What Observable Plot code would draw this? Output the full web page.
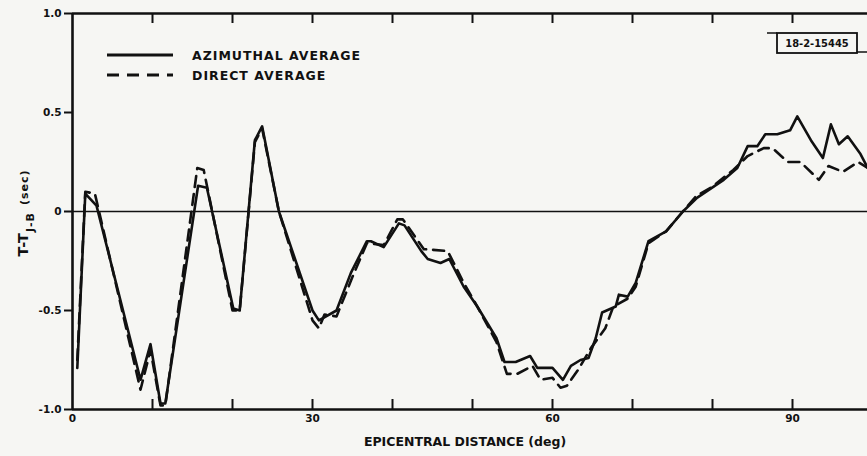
<!DOCTYPE html>
<html>
<head>
<meta charset="utf-8">
<script src="https://cdn.jsdelivr.net/npm/d3@7"></script>
<script src="https://cdn.jsdelivr.net/npm/@observablehq/plot@0.6"></script>
<style>
  html, body { margin: 0; padding: 0; background: #f6f6f3; }
  #chart { width: 867px; height: 456px; }
</style>
</head>
<body>
<div id="chart"></div>
<script>
// ---- data ----
const azDist  = [0.6, 1.6, 3.0, 8.5, 9.75, 11.0, 11.6, 15.7, 16.8, 20.1, 20.9, 22.8, 23.7, 25.8, 30.0, 30.8, 33.0, 34.8, 36.8, 37.3, 38.9, 40.8, 41.5, 43.6, 44.4, 46.0, 47.1, 48.9, 50.6, 53.0, 54.0, 55.4, 57.2, 58.1, 60.0, 61.3, 62.3, 63.5, 64.5, 65.4, 66.2, 67.9, 68.3, 69.4, 70.4, 72.0, 74.2, 76.3, 78.1, 81.4, 83.1, 84.4, 85.6, 86.6, 88.1, 89.7, 90.6, 92.3, 93.8, 94.8, 95.8, 96.9, 98.5, 99.4];
const azDelay = [-0.79, 0.09, 0.03, -0.85, -0.67, -0.97, -0.97, 0.13, 0.12, -0.49, -0.50, 0.36, 0.43, 0.0, -0.50, -0.55, -0.50, -0.31, -0.15, -0.15, -0.18, -0.06, -0.07, -0.20, -0.24, -0.26, -0.24, -0.38, -0.48, -0.64, -0.76, -0.76, -0.73, -0.79, -0.79, -0.85, -0.78, -0.75, -0.74, -0.64, -0.51, -0.48, -0.42, -0.43, -0.36, -0.15, -0.10, 0.0, 0.07, 0.16, 0.22, 0.33, 0.33, 0.39, 0.39, 0.41, 0.48, 0.36, 0.27, 0.44, 0.34, 0.38, 0.29, 0.22];

const dirDist  = [0.6, 1.6, 2.8, 8.5, 9.75, 11.0, 11.6, 15.6, 16.4, 20.0, 20.9, 22.8, 23.7, 25.8, 30.0, 30.8, 31.5, 33.0, 35.0, 36.8, 38.9, 40.6, 41.3, 43.9, 46.9, 48.9, 50.6, 53.0, 54.3, 55.6, 57.5, 58.5, 60.0, 61.0, 61.8, 63.2, 64.8, 66.6, 67.6, 69.4, 70.4, 72.0, 74.2, 76.3, 78.0, 79.8, 82.6, 84.4, 86.4, 87.5, 89.4, 91.0, 93.3, 94.5, 96.3, 98.2, 99.4];
const dirDelay = [-0.75, 0.10, 0.09, -0.90, -0.70, -0.98, -0.98, 0.22, 0.21, -0.50, -0.50, 0.35, 0.42, 0.0, -0.55, -0.59, -0.52, -0.53, -0.33, -0.16, -0.17, -0.04, -0.04, -0.19, -0.20, -0.36, -0.48, -0.66, -0.82, -0.82, -0.78, -0.85, -0.84, -0.89, -0.88, -0.80, -0.69, -0.59, -0.48, -0.44, -0.38, -0.16, -0.10, 0.0, 0.08, 0.12, 0.21, 0.28, 0.32, 0.32, 0.25, 0.25, 0.16, 0.23, 0.20, 0.25, 0.22];

const seriesNames = ["AZIMUTHAL AVERAGE", "DIRECT AVERAGE"];
const xTicks = [10, 20, 30, 40, 50, 60, 70, 80, 90];
const xLabelTicks = [0, 30, 60, 90];
const xLabelText = ["0", "30", "60", "90"];
const yTicks = [1.0, 0.5, 0, -0.5, -1.0];
const yLabelText = ["1.0", "0.5", "0", "-0.5", "-1.0"];
const xTitle = "EPICENTRAL DISTANCE (deg)";
const yTitleParts = ["T-T", "J-B", "(sec)"];
const figureId = "18-2-15445";

// ---- build tables ----
const az = azDist.map((d, i) => ({dist: d, delay: azDelay[i]}));
const dir = dirDist.map((d, i) => ({dist: d, delay: dirDelay[i]}));

const FONT = "'DejaVu Sans', sans-serif";
const INK = "#111";

const svg = Plot.plot({
  width: 867,
  height: 456,
  marginLeft: 72,
  marginRight: 0,
  marginTop: 13,
  marginBottom: 47,
  x: {domain: [0, 99.375], label: null},
  y: {domain: [-1, 1], label: null},
  style: {background: "transparent", fontFamily: FONT, fontWeight: "bold", color: INK},
  marks: [
    Plot.ruleY([0], {stroke: INK, strokeWidth: 1.6}),
    Plot.ruleY([1], {stroke: INK, strokeWidth: 2.6}),
    Plot.ruleY([-1], {stroke: INK, strokeWidth: 2.6}),
    Plot.ruleX([0], {stroke: INK, strokeWidth: 2.6}),
    Plot.axisX({anchor: "bottom", ticks: xTicks, tickSize: -10, tickFormat: () => "", strokeWidth: 2, label: null}),
    Plot.axisX({anchor: "top", ticks: xTicks, tickSize: -9, tickFormat: () => "", strokeWidth: 2, label: null}),
    Plot.axisX({anchor: "bottom", ticks: xLabelTicks, tickSize: 0, tickPadding: 5, fontSize: 10.5,
      tickFormat: d => xLabelText[xLabelTicks.indexOf(d)], label: null}),
    Plot.axisY({anchor: "left", ticks: yTicks, tickSize: 8, tickPadding: 3, fontSize: 10.5, strokeWidth: 2,
      tickFormat: d => yLabelText[yTicks.indexOf(d)], label: null}),
    Plot.line(dir, {x: "dist", y: "delay", stroke: INK, strokeWidth: 2.6, strokeDasharray: "11,7", strokeLinejoin: "round"}),
    Plot.line(az, {x: "dist", y: "delay", stroke: INK, strokeWidth: 2.6, strokeLinejoin: "round"}),
    Plot.text([xTitle], {frameAnchor: "bottom", dy: 36, dx: -5, fontSize: 12.5, fontWeight: "bold", fill: INK,
      letterSpacing: "0.8px"})
  ]
});

document.getElementById("chart").appendChild(svg);

const s = d3.select(svg);

// y-axis title with subscript
const yt = s.append("text")
  .attr("transform", "translate(28,213) rotate(-90)")
  .attr("text-anchor", "middle")
  .attr("font-family", FONT).attr("font-weight", "bold").attr("font-size", 14.5)
  .attr("letter-spacing", "1px")
  .attr("fill", INK);
yt.append("tspan").text(yTitleParts[0]);
yt.append("tspan").attr("font-size", 11).attr("dy", 6).text(yTitleParts[1]);
yt.append("tspan").attr("font-size", 11).attr("dx", 7).attr("dy", -6).text(yTitleParts[2]);

// legend
const lg = s.append("g").attr("font-family", FONT).attr("font-weight", "bold").attr("font-size", 12.5)
  .attr("fill", INK).attr("text-anchor", "start");
const legRows = [{y: 55, dash: null}, {y: 75, dash: "12,8"}];
legRows.forEach((r, i) => {
  lg.append("line").attr("x1", 107).attr("x2", 173).attr("y1", r.y).attr("y2", r.y)
    .attr("stroke", INK).attr("stroke-width", 2.8).attr("stroke-dasharray", r.dash);
  lg.append("text").attr("x", 192).attr("y", r.y).attr("dy", "0.36em")
    .attr("letter-spacing", "1px").text(seriesNames[i]);
});

// figure id box
const bx = s.append("g");
bx.append("line").attr("x1", 767).attr("x2", 777).attr("y1", 33).attr("y2", 33).attr("stroke", INK).attr("stroke-width", 1.5);
bx.append("line").attr("x1", 857).attr("x2", 867).attr("y1", 52).attr("y2", 52).attr("stroke", INK).attr("stroke-width", 1.5);
bx.append("rect").attr("x", 777).attr("y", 33).attr("width", 80).attr("height", 20)
  .attr("fill", "none").attr("stroke", INK).attr("stroke-width", 1.8);
bx.append("text").attr("x", 817).attr("y", 43).attr("dy", "0.36em").attr("text-anchor", "middle")
  .attr("font-family", "'DejaVu Sans Condensed', 'DejaVu Sans', sans-serif").attr("font-weight", "bold")
  .attr("font-size", 11).attr("fill", INK).text(figureId);
</script>
</body>
</html>
